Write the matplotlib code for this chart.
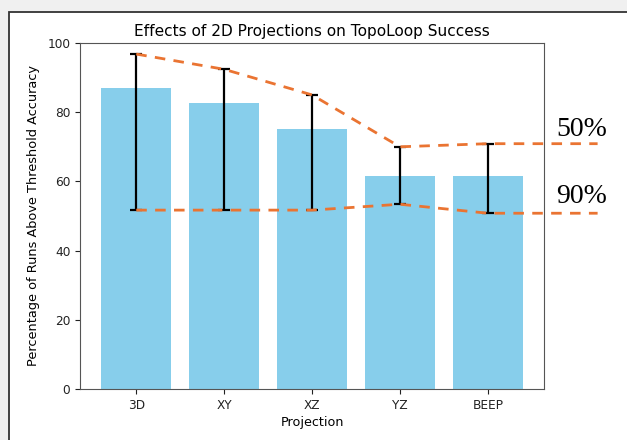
import matplotlib
matplotlib.use("Agg")
import matplotlib.pyplot as plt
from matplotlib.patches import Rectangle

categories = ["3D", "XY", "XZ", "YZ", "BEEP"]
success = [86.9, 82.6, 75.0, 61.6, 61.6]
upper = [96.8, 92.4, 85.0, 70.0, 70.9]
lower = [51.7, 51.7, 51.7, 53.4, 50.8]
yticks = [0, 20, 40, 60, 80, 100]
line_labels = ["50%", "90%"]

W, H = 627, 440
fig = plt.figure(figsize=(W / 100, H / 100), dpi=100)
fig.patch.set_facecolor("#f0f0f0")
# screenshot frame
fig.patches.append(Rectangle((8.5 / W, -0.05), 1.0, (H - 12) / H + 0.05,
                             transform=fig.transFigure, facecolor="white",
                             edgecolor="#333333", linewidth=1.3, zorder=-10))

ax = fig.add_axes([80 / W, 51 / H, 464 / W, 346 / H])
x = list(range(len(categories)))
ax.bar(x, success, width=0.8, color="skyblue")
yerr = [[s - l for s, l in zip(success, lower)], [u - s for s, u in zip(success, upper)]]
ax.errorbar(x, success, yerr=yerr, fmt="none", ecolor="black", elinewidth=1.6,
            capsize=4.5, capthick=1.6)

ext_x = x + [5.25]
orange = "#ea7432"
for vals in (upper, lower):
    ax.plot(ext_x, vals + [vals[-1]], color=orange, linewidth=2.0,
            dashes=(3.8, 3.0), clip_on=False, zorder=5)

ax.text(4.78, upper[-1] + 2.2, line_labels[0], fontsize=20, family="Liberation Serif",
        ha="left", va="baseline", clip_on=False)
ax.text(4.78, lower[-1] + 3.0, line_labels[1], fontsize=20, family="Liberation Serif",
        ha="left", va="baseline", clip_on=False)

ax.set_xlim(-0.64, 4.64)
ax.set_ylim(0, 100)
ax.set_yticks(yticks)
ax.set_xticks(x)
ax.set_xticklabels(categories)
ax.tick_params(labelsize=8.7, colors="#222222", length=3.5)
for sp in ax.spines.values():
    sp.set_color("#555555")
ax.set_title("Effects of 2D Projections on TopoLoop Success", fontsize=11.1, pad=5)
ax.set_xlabel("Projection", fontsize=9.2, labelpad=3)
ax.set_ylabel("Percentage of Runs Above Threshold Accuracy", fontsize=9.3, labelpad=5)

fig.savefig("out.png", dpi=100, facecolor=fig.get_facecolor())
